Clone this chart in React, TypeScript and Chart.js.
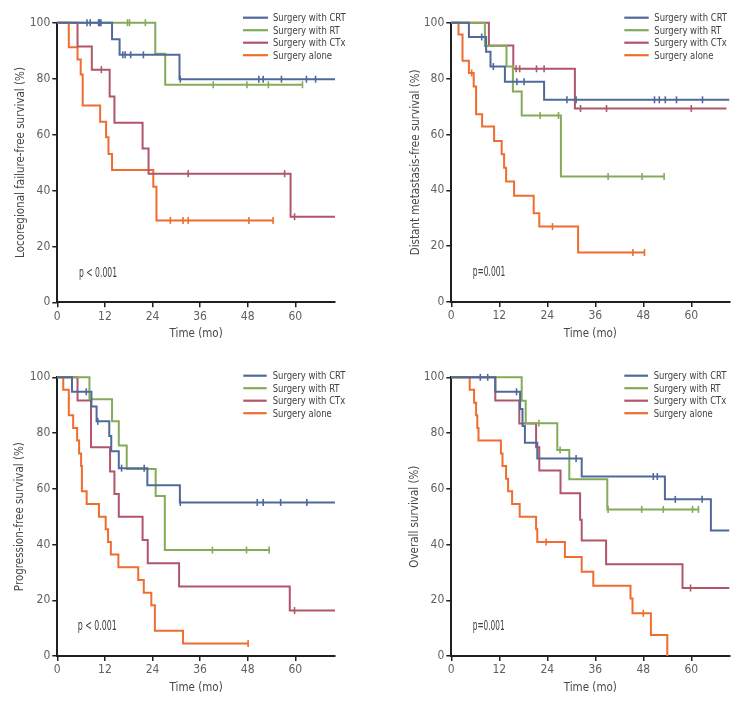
import React, { useEffect, useRef } from 'react';
import { Chart, registerables } from 'chart.js';

Chart.register(...registerables);

const FONT = "'Liberation Sans Narrow', 'Arial Narrow', 'DejaVu Sans Condensed', 'Roboto Condensed', sans-serif";

// ---------- labels / ticks ----------
const groupLabels = ['Surgery with CRT', 'Surgery with RT', 'Surgery with CTx', 'Surgery alone'];
const groupColors = ['#50699b', '#84ab5a', '#b0566b', '#f06d30'];
const xTickValues = [0, 12, 24, 36, 48, 60];
const yTickValues = [0, 20, 40, 60, 80, 100];
const yTitles = [
  'Locoregional failure-free survival (%)',
  'Distant metastasis-free survival (%)',
  'Progression-free survival (%)',
  'Overall survival (%)',
];
const xTitle = 'Time (mo)';
const pTexts = ['p < 0.001', 'p=0.001', 'p < 0.001', 'p=0.001'];
const xMaxes = [70, 69.5, 70, 69.5];

// ---------- Panel 1: locoregional failure-free survival ----------
const lrCrtT = [0, 13.8, 15.7, 30.8, 70];
const lrCrtS = [100, 94.1, 88.5, 79.8, 79.8];
const lrCrtC = [7.5, 8.3, 10.4, 10.7, 11.0, 16.5, 17.1, 18.5, 21.7, 31.0, 50.8, 51.9, 56.5, 62.8, 65.1];
const lrRtT = [0, 24.7, 27.2, 61.8];
const lrRtS = [100, 88.9, 77.8, 77.8];
const lrRtC = [17.7, 18.2, 22.2, 39.3, 47.8, 53.2, 61.8];
const lrCtxT = [0, 5.1, 8.7, 13.2, 14.4, 21.5, 23.0, 58.8, 70];
const lrCtxS = [100, 91.5, 83.2, 73.6, 64.2, 55.0, 46.0, 30.6, 30.6];
const lrCtxC = [11.1, 33.0, 57.3, 59.8];
const lrAloneT = [0, 2.9, 5.1, 5.9, 6.4, 10.8, 12.3, 12.9, 13.8, 24.2, 25.0, 54.4];
const lrAloneS = [100, 91.2, 86.8, 81.5, 70.4, 64.6, 59.0, 53.0, 47.3, 41.3, 29.3, 29.3];
const lrAloneC = [28.5, 31.7, 33.0, 48.3, 54.4];

// ---------- Panel 2: distant metastasis-free survival ----------
const dmCrtT = [0, 4.4, 8.7, 9.8, 13.4, 23.2, 69.5];
const dmCrtS = [100, 94.9, 89.6, 84.3, 78.9, 72.4, 72.4];
const dmCrtC = [7.6, 10.5, 16.4, 18.2, 28.9, 31.2, 50.8, 52.0, 53.5, 56.3, 62.8];
const dmRtT = [0, 8.4, 13.8, 15.4, 17.6, 27.4, 53.2];
const dmRtS = [100, 91.7, 84.3, 75.4, 66.8, 44.9, 44.9];
const dmRtC = [22.2, 26.8, 39.2, 47.7, 53.2];
const dmCtxT = [0, 9.4, 15.5, 30.9, 68.8];
const dmCtxS = [100, 91.8, 83.5, 69.3, 69.3];
const dmCtxC = [16.2, 17.1, 21.3, 23.2, 32.3, 38.8, 60.0];
const dmAloneT = [0, 1.8, 2.8, 4.4, 5.6, 6.2, 7.7, 10.7, 12.6, 13.2, 13.7, 15.7, 20.6, 22.0, 31.7, 48.3];
const dmAloneS = [100, 95.8, 86.4, 82.0, 77.2, 67.2, 62.8, 57.6, 52.9, 48.1, 43.1, 38.0, 31.8, 27.0, 17.7, 17.7];
const dmAloneC = [5.1, 25.3, 45.4, 48.3];

// ---------- Panel 3: progression-free survival ----------
const pfCrtT = [0, 3.7, 8.6, 9.9, 13.1, 13.6, 15.5, 22.7, 30.9, 70];
const pfCrtS = [100, 94.8, 89.5, 84.2, 78.9, 73.5, 67.4, 61.3, 55.1, 55.1];
const pfCrtC = [7.3, 10.2, 16.2, 21.9, 31.0, 50.4, 51.9, 56.3, 62.9];
const pfRtT = [0, 8.1, 13.8, 15.5, 17.5, 24.8, 27.1, 53.4];
const pfRtS = [100, 92.1, 84.2, 75.5, 67.1, 57.4, 38.0, 38.0];
const pfRtC = [39.1, 47.7, 53.4];
const pfCtxT = [0, 5.1, 8.5, 13.3, 14.4, 15.5, 21.5, 22.8, 30.7, 58.6, 70];
const pfCtxS = [100, 91.7, 74.9, 66.2, 58.1, 50.0, 41.6, 33.3, 24.9, 16.3, 16.3];
const pfCtxC = [59.8];
const pfAloneT = [0, 1.5, 2.9, 4.0, 5.0, 5.5, 6.0, 6.2, 7.4, 10.5, 12.2, 12.8, 13.5, 15.4, 20.4, 21.8, 23.7, 24.6, 31.7, 48.1];
const pfAloneS = [100, 95.5, 86.4, 81.8, 77.3, 72.7, 68.2, 59.1, 54.5, 50.0, 45.5, 40.9, 36.4, 31.8, 27.3, 22.7, 18.2, 9.1, 4.5, 4.5];
const pfAloneC = [48.1];

// ---------- Panel 4: overall survival ----------
const osCrtT = [0, 11.0, 17.2, 17.8, 18.4, 21.5, 32.6, 53.4, 64.9, 69.5];
const osCrtS = [100, 94.8, 88.6, 82.5, 76.5, 70.9, 64.4, 56.2, 45.0, 45.0];
const osCrtC = [7.25, 9.1, 16.3, 31.2, 50.5, 51.5, 56.0, 62.7];
const osRtT = [0, 17.6, 18.6, 26.5, 29.5, 39.0, 61.8];
const osRtS = [100, 91.6, 83.5, 73.9, 63.4, 52.6, 52.6];
const osRtC = [21.9, 27.2, 39.2, 47.6, 53.0, 60.3, 61.8];
const osCtxT = [0, 11.0, 17.0, 21.2, 22.0, 27.3, 32.2, 32.6, 38.7, 57.8, 69.5];
const osCtxS = [100, 91.7, 83.4, 74.9, 66.6, 58.4, 48.9, 41.4, 32.9, 24.4, 24.4];
const osCtxC = [59.8];
const osAloneT = [0, 4.6, 5.7, 6.2, 6.5, 6.8, 12.4, 12.8, 13.7, 14.2, 15.2, 17.1, 21.2, 21.5, 28.4, 32.6, 35.5, 44.8, 45.3, 49.9, 54.0];
const osAloneS = [100, 95.5, 90.9, 86.4, 81.8, 77.3, 72.7, 68.2, 63.6, 59.1, 54.5, 50.0, 45.5, 40.9, 35.5, 30.2, 25.2, 20.6, 15.3, 7.5, 0];
const osAloneC = [23.7, 48.0];

type Series = { t: number[]; s: number[]; c: number[] };
const panelSeries: Series[][] = [
  [
    { t: lrCrtT, s: lrCrtS, c: lrCrtC },
    { t: lrRtT, s: lrRtS, c: lrRtC },
    { t: lrCtxT, s: lrCtxS, c: lrCtxC },
    { t: lrAloneT, s: lrAloneS, c: lrAloneC },
  ],
  [
    { t: dmCrtT, s: dmCrtS, c: dmCrtC },
    { t: dmRtT, s: dmRtS, c: dmRtC },
    { t: dmCtxT, s: dmCtxS, c: dmCtxC },
    { t: dmAloneT, s: dmAloneS, c: dmAloneC },
  ],
  [
    { t: pfCrtT, s: pfCrtS, c: pfCrtC },
    { t: pfRtT, s: pfRtS, c: pfRtC },
    { t: pfCtxT, s: pfCtxS, c: pfCtxC },
    { t: pfAloneT, s: pfAloneS, c: pfAloneC },
  ],
  [
    { t: osCrtT, s: osCrtS, c: osCrtC },
    { t: osRtT, s: osRtS, c: osRtC },
    { t: osCtxT, s: osCtxS, c: osCtxC },
    { t: osAloneT, s: osAloneS, c: osAloneC },
  ],
];

// ---------- layout (pixels) ----------
type Layout = {
  left: number; top: number; w: number; h: number;
  area: { l: number; r: number; t: number; b: number };
  yTitleX: number;
  legend: { x0: number; x1: number; tx: number; y0: number; dy: number; tw: number };
  pPos: { x: number; y: number; w: number };
};
const layouts: Layout[] = [
  { left: 0, top: 0, w: 372, h: 345, area: { l: 57.3, r: 335, t: 22.7, b: 302.3 }, yTitleX: 21.2,
    legend: { x0: 243, x1: 268, tx: 273, y0: 17.7, dy: 12.5, tw: 72.7 }, pPos: { x: 79, y: 273, w: 38 } },
  { left: 372, top: 0, w: 372, h: 345, area: { l: 79.3, r: 357.3, t: 22.7, b: 302 }, yTitleX: 43.8,
    legend: { x0: 252.3, x1: 276.7, tx: 282.3, y0: 17.7, dy: 12.5, tw: 72.7 }, pPos: { x: 100.7, y: 272.7, w: 32.6 } },
  { left: 0, top: 355, w: 372, h: 347, area: { l: 57.3, r: 335, t: 22.3, b: 301 }, yTitleX: 20.5,
    legend: { x0: 243.3, x1: 266.7, tx: 272.7, y0: 20.7, dy: 12.5, tw: 72.7 }, pPos: { x: 77.7, y: 271.7, w: 39 } },
  { left: 372, top: 355, w: 372, h: 347, area: { l: 79.3, r: 357.3, t: 22.3, b: 301 }, yTitleX: 42.8,
    legend: { x0: 252.3, x1: 276, tx: 281.7, y0: 20.7, dy: 12.5, tw: 72.7 }, pPos: { x: 100.7, y: 271.7, w: 32 } },
];

const AXIS_COLOR = '#231f20';
const TICK_TEXT = '#5f6062';
const TITLE_TEXT = '#47484a';
const TITLE_SIZE = 11.5;
const X_AXIS_H = 32 + TITLE_SIZE * 0.6;

function survAt(t: number[], s: number[], time: number): number {
  let v = s[0];
  for (let i = 0; i < t.length; i++) if (t[i] <= time) v = s[i];
  return v;
}

function condensedText(ctx: CanvasRenderingContext2D, text: string, x: number, y: number, sx: number) {
  ctx.save();
  ctx.translate(x, y);
  ctx.scale(sx, 1);
  ctx.fillText(text, 0, 0);
  ctx.restore();
}

function Panel({ idx }: { idx: number }) {
  const ref = useRef<HTMLCanvasElement | null>(null);
  const L = layouts[idx];
  useEffect(() => {
    const canvas = ref.current;
    if (!canvas) return;
    const datasets: any[] = [];
    panelSeries[idx].forEach((se, g) => {
      datasets.push({
        type: 'line',
        label: groupLabels[g],
        data: se.t.map((x, i) => ({ x, y: se.s[i] })),
        borderColor: groupColors[g],
        backgroundColor: groupColors[g],
        borderWidth: 2,
        stepped: 'before',
        pointRadius: 0,
        fill: false,
        clip: false,
      });
      datasets.push({
        type: 'line',
        label: groupLabels[g] + ' censored',
        data: se.c.map((x) => ({ x, y: survAt(se.t, se.s, x) })),
        showLine: false,
        borderColor: groupColors[g],
        backgroundColor: groupColors[g],
        pointStyle: 'line',
        rotation: 90,
        pointRadius: 3.5,
        pointBorderWidth: 1.6,
        pointBorderColor: groupColors[g],
        clip: false,
      });
    });

    const overlay = {
      id: 'overlay' + idx,
      afterDraw(chart: any) {
        const ctx: CanvasRenderingContext2D = chart.ctx;
        ctx.save();
        // legend
        ctx.font = `11px ${FONT}`;
        ctx.textBaseline = 'middle';
        ctx.textAlign = 'left';
        const ref0 = ctx.measureText(groupLabels[0]).width || 1;
        const sx = Math.min(1, L.legend.tw / ref0);
        groupLabels.forEach((lab, g) => {
          const y = L.legend.y0 + g * L.legend.dy;
          ctx.strokeStyle = groupColors[g];
          ctx.lineWidth = 2.2;
          ctx.beginPath();
          ctx.moveTo(L.legend.x0, y);
          ctx.lineTo(L.legend.x1, y);
          ctx.stroke();
          ctx.fillStyle = '#404143';
          condensedText(ctx, lab, L.legend.tx, y + 0.5, sx);
        });
        // p value
        ctx.font = `13.5px ${FONT}`;
        ctx.fillStyle = '#404143';
        const pw = ctx.measureText(pTexts[idx]).width || 1;
        condensedText(ctx, pTexts[idx], L.pPos.x, L.pPos.y, Math.min(1, L.pPos.w / pw));
        ctx.restore();
      },
    };

    const chart = new Chart(canvas, {
      type: 'line',
      data: { datasets },
      options: {
        animation: false,
        responsive: false,
        maintainAspectRatio: false,
        events: [],
        layout: {
          padding: {
            left: 0,
            top: L.area.t,
            right: L.w - L.area.r,
            bottom: L.h - L.area.b - X_AXIS_H,
          },
        },
        plugins: {
          legend: { display: false },
          tooltip: { enabled: false },
          title: { display: false },
        },
        scales: {
          x: {
            type: 'linear',
            min: 0,
            max: xMaxes[idx],
            afterBuildTicks: (sc: any) => { sc.ticks = xTickValues.map((v) => ({ value: v })); },
            afterFit: (sc: any) => { sc.height = X_AXIS_H; },
            ticks: {
              color: TICK_TEXT,
              font: { family: FONT, size: 12 },
              padding: 2,
              maxRotation: 0,
              autoSkip: false,
            },
            grid: {
              drawOnChartArea: false,
              drawTicks: true,
              tickLength: 5,
              color: AXIS_COLOR,
              lineWidth: 1.5,
            },
            border: { display: true, color: AXIS_COLOR, width: 2 },
            title: {
              display: true,
              text: xTitle,
              color: TITLE_TEXT,
              font: { family: FONT, size: TITLE_SIZE },
              padding: { top: 0, bottom: 0 },
            },
          },
          y: {
            type: 'linear',
            min: 0,
            max: 100,
            afterBuildTicks: (sc: any) => { sc.ticks = yTickValues.map((v) => ({ value: v })); },
            afterFit: (sc: any) => { sc.width = L.area.l; },
            ticks: {
              color: TICK_TEXT,
              font: { family: FONT, size: 12 },
              padding: 2,
              autoSkip: false,
            },
            grid: {
              drawOnChartArea: false,
              drawTicks: true,
              tickLength: 5,
              color: AXIS_COLOR,
              lineWidth: 1.5,
            },
            border: { display: true, color: AXIS_COLOR, width: 2 },
            title: {
              display: true,
              text: yTitles[idx],
              color: TITLE_TEXT,
              font: { family: FONT, size: TITLE_SIZE },
              padding: { top: L.yTitleX - TITLE_SIZE * 0.6, bottom: 0 },
            },
          },
        },
      } as any,
      plugins: [overlay],
    });
    return () => chart.destroy();
  }, [idx]);

  return (
    <canvas
      ref={ref}
      width={L.w}
      height={L.h}
      style={{ position: 'absolute', left: L.left, top: L.top, width: L.w, height: L.h }}
    />
  );
}

export default function App() {
  return (
    <div style={{ position: 'absolute', left: 0, top: 0, width: 744, height: 702, background: '#ffffff' }}>
      {[0, 1, 2, 3].map((i) => (
        <Panel key={i} idx={i} />
      ))}
    </div>
  );
}
